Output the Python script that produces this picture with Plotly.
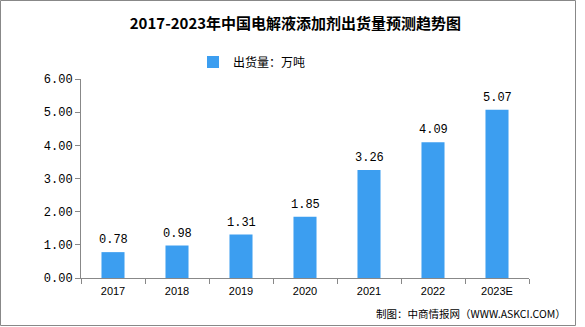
import plotly.graph_objects as go

categories = ["2017", "2018", "2019", "2020", "2021", "2022", "2023E"]
values = [0.78, 0.98, 1.31, 1.85, 3.26, 4.09, 5.07]
y_ticks = [0, 1, 2, 3, 4, 5, 6]
y_tick_labels = ["0.00", "1.00", "2.00", "3.00", "4.00", "5.00", "6.00"]

W, H = 585, 327
L, R, T, B = 81, 56, 79, 49

fig = go.Figure()
fig.add_trace(go.Bar(
    x=categories, y=values, name="出货量：万吨",
    marker=dict(color="#3C9EF0", line=dict(width=0)),
))

for i, v in enumerate(values):
    fig.add_annotation(x=i, y=v, xref="x", yref="y", text=f"{v:.2f}", showarrow=False,
                       yanchor="bottom", yshift=3,
                       font=dict(family="Liberation Mono, DejaVu Sans Mono", size=12, color="#000"))

pw = W - L - R
ph = H - T - B
def px(x):
    return (x - L) / pw
def py(y):
    return (H - B - y) / ph

fig.update_layout(
    width=W, height=H,
    margin=dict(l=L, r=R, t=T, b=B),
    paper_bgcolor="white", plot_bgcolor="white",
    bargap=0.64,
    showlegend=True,
    legend=dict(orientation="h", x=px(252), y=py(62), xanchor="center", yanchor="middle",
                font=dict(family="Noto Sans CJK SC", size=12, color="#000"),
                itemwidth=30, bgcolor="rgba(0,0,0,0)"),
    title=dict(text="<b>2017-2023年中国电解液添加剂出货量预测趋势图</b>",
               x=0.505, xanchor="center", y=1 - 24 / H, yanchor="middle",
               font=dict(family="Noto Sans CJK SC", size=15, color="#000")),
    xaxis=dict(type="category", categoryorder="array", categoryarray=categories,
               range=[-0.5, len(categories) - 0.5],
               showline=True, linecolor="#888", linewidth=1,
               ticks="outside", tickson="boundaries", ticklen=5, tickcolor="#888",
               tickfont=dict(family="Liberation Sans, Arial", size=11, color="#000"),
               ticklabelstandoff=3,
               tickangle=0, showgrid=False, zeroline=False),
    yaxis=dict(range=[0, 6], tickvals=y_ticks, ticktext=y_tick_labels,
               showline=True, linecolor="#888", linewidth=1,
               ticks="outside", ticklen=5, tickcolor="#888",
               tickfont=dict(family="Liberation Mono, DejaVu Sans Mono", size=12, color="#000"),
               showgrid=False, zeroline=False),
)

fig.add_annotation(text="制图：中商情报网（WWW.ASKCI.COM）", xref="paper", yref="paper",
                   x=px(568), y=py(313), xanchor="right", yanchor="middle", showarrow=False,
                   font=dict(family="Noto Sans CJK SC", size=10.5, color="#000"))

fig.add_shape(type="rect", xref="paper", yref="paper",
              x0=px(0.5), x1=px(575.5), y0=py(325.5), y1=py(0.5),
              line=dict(color="#888", width=1), fillcolor="rgba(0,0,0,0)", layer="below")

fig.write_html("out.html")
